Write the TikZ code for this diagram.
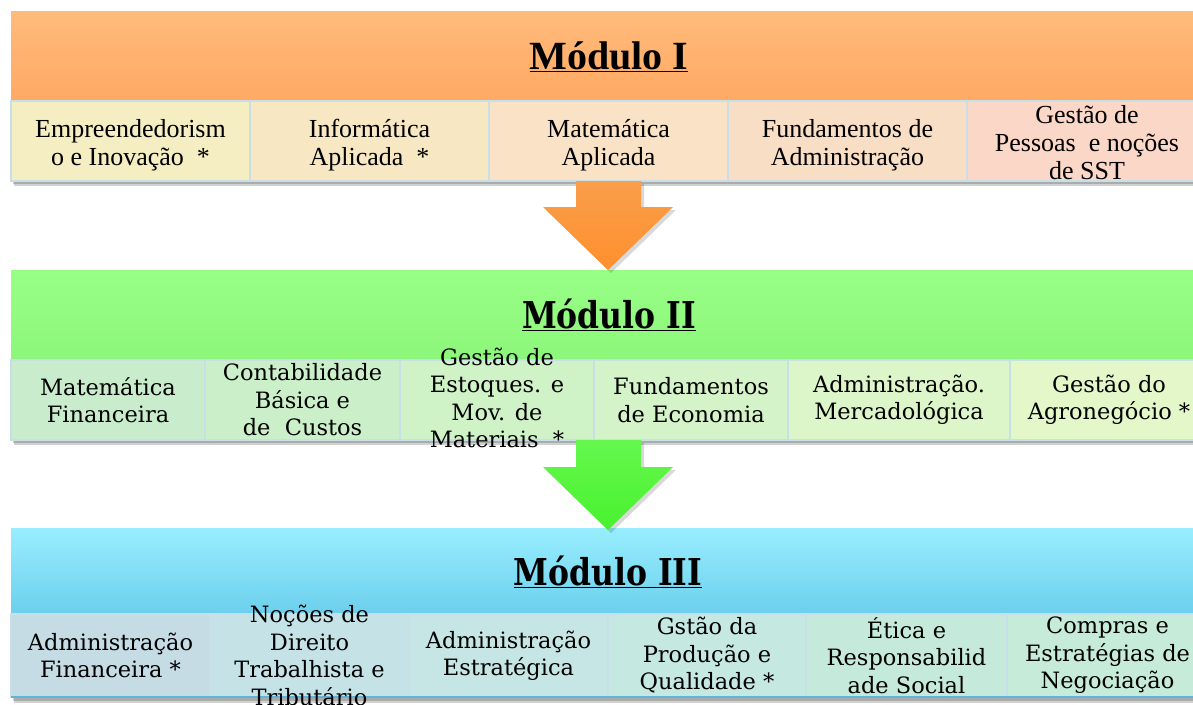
\documentclass[tikz,border=0pt]{standalone}
\usepackage{fontspec}
\setmainfont{Liberation Serif}
\newfontfamily\camb{DejaVu Serif}
\newfontfamily\cambt[FakeStretch=0.85]{DejaVu Serif}
\definecolor{mItop}{HTML}{FFBB7B}
\definecolor{mIbot}{HTML}{FFA964}
\definecolor{cIa}{HTML}{F5EEC2}
\definecolor{cIb}{HTML}{F7E8C3}
\definecolor{cIc}{HTML}{F9E2C5}
\definecolor{cId}{HTML}{F9DEC6}
\definecolor{cIe}{HTML}{FAD7C6}
\definecolor{mIItop}{HTML}{98FF86}
\definecolor{mIIbot}{HTML}{8CF67A}
\definecolor{cIIa}{HTML}{C9EDCC}
\definecolor{cIIb}{HTML}{CBF0C9}
\definecolor{cIIc}{HTML}{CFF2C7}
\definecolor{cIId}{HTML}{D5F3C9}
\definecolor{cIIe}{HTML}{DCF5C9}
\definecolor{cIIf}{HTML}{E3F7C9}
\definecolor{mIIItop}{HTML}{98EEFF}
\definecolor{mIIIbot}{HTML}{6CCFEC}
\definecolor{cIIIa}{HTML}{C5DCE5}
\definecolor{cIIIb}{HTML}{C5E2E6}
\definecolor{cIIIc}{HTML}{C5E6E4}
\definecolor{cIIId}{HTML}{C5E8E0}
\definecolor{cIIIe}{HTML}{C5EADC}
\definecolor{cIIIf}{HTML}{C6ECD9}
\definecolor{cellline}{HTML}{C8DFE8}
\definecolor{bottomline}{HTML}{5BB6DA}
\definecolor{arrIt}{HTML}{F99E4A}
\definecolor{arrIb}{HTML}{FF902F}
\definecolor{arrIIt}{HTML}{66F74E}
\definecolor{arrIIb}{HTML}{48F22E}
\begin{document}
\begin{tikzpicture}[x=1pt,y=-1pt,
  hdr/.style={draw=none, anchor=north west, inner sep=0, outer sep=0, minimum width=1197, shading angle=0},
  cell/.style={draw=cellline, line width=1.3pt, anchor=north west, inner sep=0, outer sep=0},
  txtI/.style={align=center, inner sep=0, font=\fontsize{26}{28}\selectfont},
  txtII/.style={align=center, inner sep=0, font=\camb\fontsize{22.5}{27.5}\selectfont},
  ttlI/.style={anchor=base, inner sep=0, font=\bfseries\fontsize{40}{44}\selectfont},
  ttlII/.style={anchor=base, inner sep=0, font=\cambt\bfseries\fontsize{37}{40}\selectfont},
  shad/.style={fill=black, opacity=0.18},
]
\clip (0,0) rectangle (1193,704);
\fill[white] (0,0) rectangle (1193,704);

% ---------- Module I ----------
\fill[shad] (14,15) rectangle (1212,186);
\fill[shad] (13,14) rectangle (1211,184);
\node[hdr, minimum height=90, top color=mItop, bottom color=mIbot] (mIh) at (11,11) {};
\node[ttlI] (mIt) at (609,69) {\underline{Módulo I}};
\node[cell, fill=cIa, minimum width=239, minimum height=80] (mIa) at (11,101) {};
\node[cell, fill=cIb, minimum width=239, minimum height=80] (mIb) at (250,101) {};
\node[cell, fill=cIc, minimum width=239, minimum height=80] (mIc) at (489,101) {};
\node[cell, fill=cId, minimum width=239, minimum height=80] (mId) at (728,101) {};
\node[cell, fill=cIe, minimum width=240, minimum height=80] (mIe) at (967,101) {};
\node[txtI] at ([yshift=-4]mIa.center) {Empreendedorism\\o e Inovação~ *};
\node[txtI] at ([yshift=-4]mIb.center) {Informática\\Aplicada~ *};
\node[txtI] at ([yshift=-4]mIc.center) {Matemática\\Aplicada};
\node[txtI] at ([yshift=-4]mId.center) {Fundamentos de\\Administração};
\node[txtI] at ([yshift=-2]mIe.center) {Gestão de\\Pessoas~ e noções\\de SST};

% ---------- Module II ----------
\fill[shad] (14,274) rectangle (1212,445);
\fill[shad] (13,273) rectangle (1211,443);
\node[hdr, minimum height=90, top color=mIItop, bottom color=mIIbot] (mIIh) at (11,270) {};
\node[ttlII] (mIIt) at (609,328) {\underline{Módulo II}};
\node[cell, fill=cIIa, minimum width=194, minimum height=80] (mIIa) at (11,360) {};
\node[cell, fill=cIIb, minimum width=195, minimum height=80] (mIIb) at (205,360) {};
\node[cell, fill=cIIc, minimum width=194, minimum height=80] (mIIc) at (400,360) {};
\node[cell, fill=cIId, minimum width=194, minimum height=80] (mIId) at (594,360) {};
\node[cell, fill=cIIe, minimum width=222, minimum height=80] (mIIe) at (788,360) {};
\node[cell, fill=cIIf, minimum width=198, minimum height=80] (mIIf) at (1010,360) {};
\node[txtII] at (mIIa) {Matemática\\Financeira};
\node[txtII] at (mIIb) {Contabilidade\\Básica e\\de~ Custos};
\node[txtII] at ([yshift=2]mIIc.center) {Gestão de\\Estoques. e\\Mov. de\\Materiais~ *};
\node[txtII] at (mIId) {Fundamentos\\de Economia};
\node[txtII] at (mIIe) {Administração.\\Mercadológica};
\node[txtII] at (mIIf) {Gestão do\\Agronegócio *};

% ---------- Module III ----------
\fill[shad] (14,532) rectangle (1212,703);
\fill[shad] (13,531) rectangle (1211,701);
\node[hdr, minimum height=86, top color=mIIItop, bottom color=mIIIbot] (mIIIh) at (11,528) {};
\node[ttlII] (mIIIt) at (608,585) {\underline{Módulo III}};
\node[cell, fill=cIIIa, minimum width=199, minimum height=83] (mIIIa) at (11,614) {};
\node[cell, fill=cIIIb, minimum width=199, minimum height=83] (mIIIb) at (210,614) {};
\node[cell, fill=cIIIc, minimum width=199, minimum height=83] (mIIIc) at (409,614) {};
\node[cell, fill=cIIId, minimum width=198, minimum height=83] (mIIId) at (608,614) {};
\node[cell, fill=cIIIe, minimum width=201, minimum height=83] (mIIIe) at (806,614) {};
\node[cell, fill=cIIIf, minimum width=201, minimum height=83] (mIIIf) at (1007,614) {};
\draw[bottomline, line width=2.5pt] (mIIIa.south west) -- (mIIIf.south east);
\node[txtII] at (mIIIa) {Administração\\Financeira *};
\node[txtII] at (mIIIb) {Noções de\\Direito\\Trabalhista e\\Tributário};
\node[txtII] at (mIIIc) {Administração\\Estratégica};
\node[txtII] at (mIIId) {Gstão da\\Produção e\\Qualidade *};
\node[txtII] at (mIIIe) {Ética e\\Responsabilid\\ade Social};
\node[txtII] at (mIIIf) {Compras e\\Estratégias de\\Negociação};

% ---------- Arrows ----------
\fill[black, opacity=0.15] (579,184) -- (644,184) -- (644,210) -- (676,210) -- (611,273) -- (546,210) -- (579,210) -- cycle;
\shade[top color=arrIt, bottom color=arrIb] (576,181) -- (641,181) -- (641,207) -- (673,207) -- (608,270) -- (543,207) -- (576,207) -- cycle;
\fill[black, opacity=0.15] (579,443) -- (644,443) -- (644,470) -- (676,470) -- (611,533) -- (546,470) -- (579,470) -- cycle;
\shade[top color=arrIIt, bottom color=arrIIb] (576,440) -- (641,440) -- (641,467) -- (673,467) -- (608,530) -- (543,467) -- (576,467) -- cycle;
\end{tikzpicture}
\end{document}
